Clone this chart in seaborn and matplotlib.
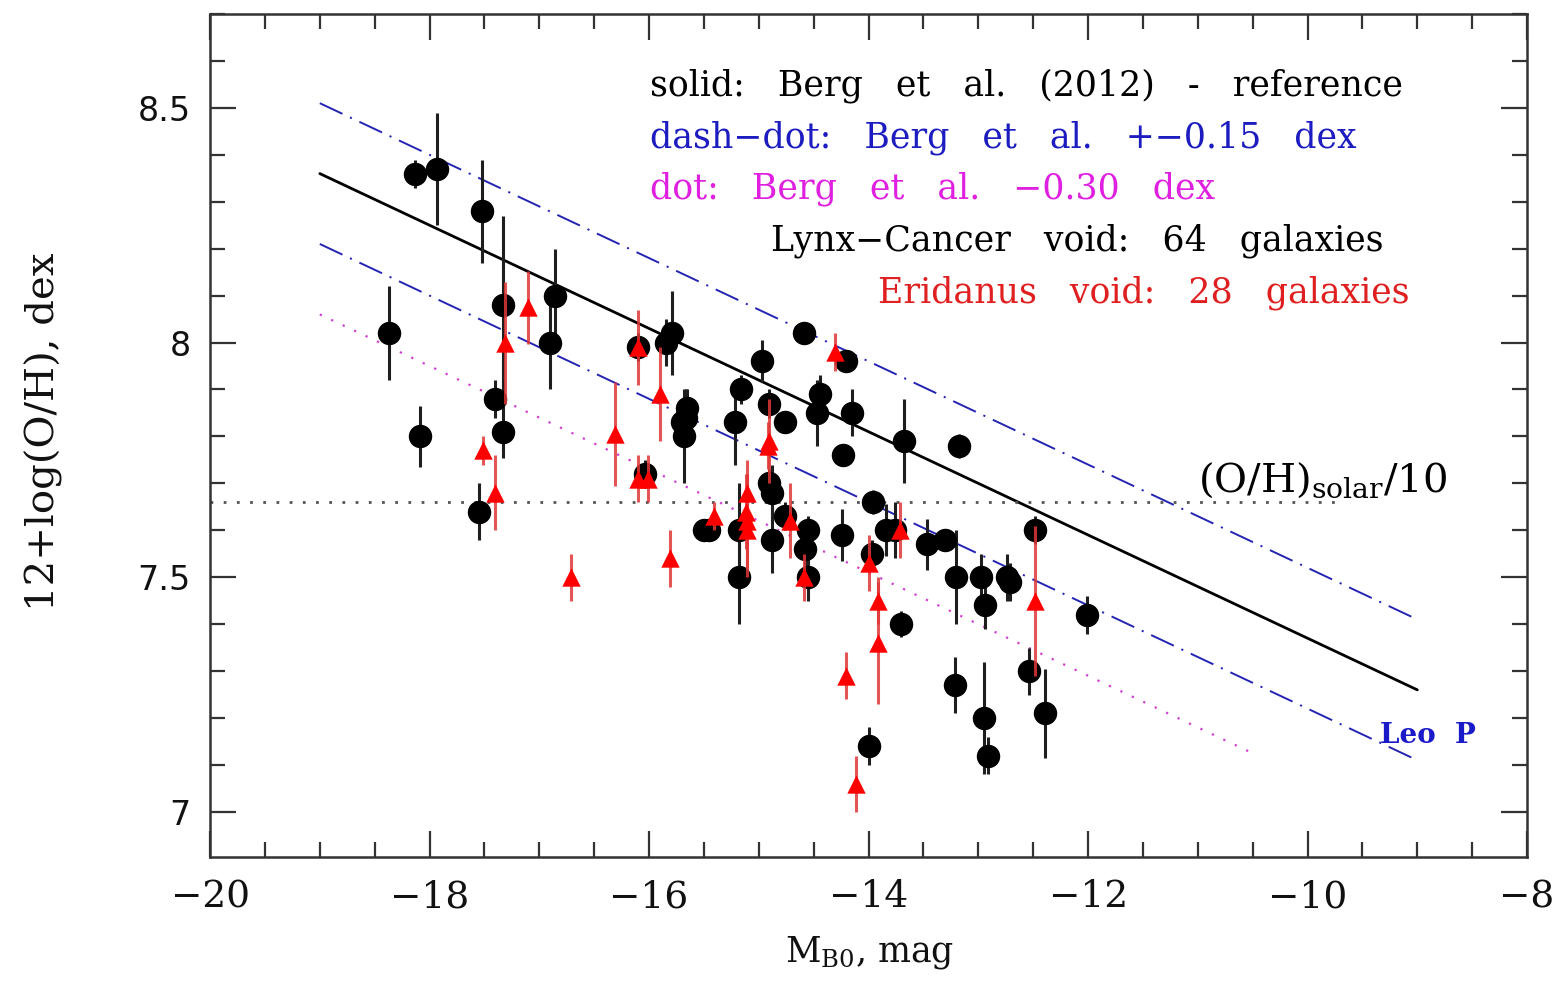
import matplotlib
matplotlib.use("Agg")
import matplotlib.pyplot as plt
from matplotlib.ticker import MultipleLocator, FuncFormatter
import pandas as pd
import seaborn as sns

# Lynx-Cancer void galaxies: absolute B magnitude, oxygen abundance, 1-sigma error
lc_mag = [-18.13, -17.93, -17.52, -17.33, -16.86, -16.90, -18.37, -17.40, -17.33, -18.09,
          -17.55, -16.10, -15.79, -15.85, -15.65, -15.70, -15.68, -16.04, -15.50, -15.18,
          -15.18, -14.97, -15.16, -15.22, -14.91, -14.76, -14.91, -14.88, -14.88, -14.76,
          -14.55, -14.58, -14.55, -14.59, -14.21, -14.44, -14.47, -14.15, -14.23, -13.68,
          -13.18, -13.96, -14.24, -13.84, -13.76, -13.97, -13.70, -13.47, -13.30, -13.20,
          -12.98, -12.94, -12.74, -12.71, -12.48, -12.01, -14.00, -13.21, -12.95, -12.91,
          -12.54, -12.39, -15.45, -15.66]
lc_oh = [8.36, 8.37, 8.28, 8.08, 8.10, 8.00, 8.02, 7.88, 7.81, 7.80,
         7.64, 7.99, 8.02, 8.00, 7.86, 7.83, 7.80, 7.72, 7.60, 7.60,
         7.50, 7.96, 7.90, 7.83, 7.87, 7.83, 7.70, 7.68, 7.58, 7.63,
         7.60, 7.56, 7.50, 8.02, 7.96, 7.89, 7.85, 7.85, 7.76, 7.79,
         7.78, 7.66, 7.59, 7.60, 7.60, 7.55, 7.40, 7.57, 7.58, 7.50,
         7.50, 7.44, 7.50, 7.49, 7.60, 7.42, 7.14, 7.27, 7.20, 7.12,
         7.30, 7.21, 7.60, 7.84]
lc_err = [0.03, 0.12, 0.11, 0.19, 0.10, 0.10, 0.10, 0.04, 0.055, 0.065,
          0.06, 0.03, 0.09, 0.05, 0.04, 0.05, 0.10, 0.03, 0.02, 0.10,
          0.10, 0.045, 0.03, 0.09, 0.03, 0.02, 0.03, 0.06, 0.07, 0.03,
          0.03, 0.04, 0.05, 0.02, 0.02, 0.04, 0.07, 0.05, 0.02, 0.09,
          0.025, 0.025, 0.055, 0.055, 0.06, 0.03, 0.027, 0.055, 0.02, 0.10,
          0.05, 0.05, 0.05, 0.04, 0.03, 0.04, 0.04, 0.06, 0.12, 0.04,
          0.05, 0.095, 0.02, 0.06]

# Eridanus void galaxies
er_mag = [-17.51, -17.40, -16.71, -17.31, -17.10, -16.10, -15.90, -16.31, -16.10, -16.01,
          -15.41, -15.81, -15.11, -15.11, -15.11, -14.91, -14.72, -14.59, -14.31, -13.71,
          -14.00, -13.91, -13.91, -14.21, -14.11, -12.48, -14.92, -15.12]
er_oh = [7.77, 7.68, 7.50, 8.00, 8.075, 7.99, 7.89, 7.805, 7.71, 7.71,
         7.63, 7.54, 7.68, 7.62, 7.60, 7.79, 7.62, 7.50, 7.98, 7.60,
         7.53, 7.45, 7.36, 7.29, 7.06, 7.45, 7.78, 7.64]
er_err = [0.03, 0.08, 0.05, 0.13, 0.078, 0.08, 0.10, 0.11, 0.05, 0.05,
          0.03, 0.06, 0.07, 0.10, 0.10, 0.09, 0.08, 0.05, 0.04, 0.06,
          0.06, 0.05, 0.13, 0.05, 0.06, 0.16, 0.05, 0.08]

# Berg et al. (2012) luminosity-metallicity relation and its offsets
berg_mag = [-19.0, -9.0]
berg_oh = [8.36, 7.26]
berg_band = 0.15
dot_mag = [-19.0, -10.5]
dot_oh = [8.06, 7.125]
solar_tenth = 7.66
solar_mag = [-20.0, -9.7]

lc = pd.DataFrame({"mag": lc_mag, "oh": lc_oh, "err": lc_err})
er = pd.DataFrame({"mag": er_mag, "oh": er_oh, "err": er_err})

sns.set_theme(style="ticks")
plt.rcParams["font.family"] = ["DejaVu Serif"]
plt.rcParams["mathtext.fontset"] = "dejavuserif"
plt.rcParams["lines.scale_dashes"] = False

fig = plt.figure(figsize=(15.64, 9.93), dpi=100)
ax = fig.add_axes([0.1343, 0.137, 0.8421, 0.8489])

# reference relations
DASHDOT = [18, 6, 1.5, 6]
sns.lineplot(x=berg_mag, y=berg_oh, ax=ax, color="black", linewidth=2.0, zorder=2)
sns.lineplot(x=berg_mag, y=[v + berg_band for v in berg_oh], ax=ax, color="#2424b4",
             linewidth=1.4, zorder=2).lines[-1].set_dashes(DASHDOT)
sns.lineplot(x=berg_mag, y=[v - berg_band for v in berg_oh], ax=ax, color="#2424b4",
             linewidth=1.4, zorder=2).lines[-1].set_dashes(DASHDOT)
sns.lineplot(x=dot_mag, y=dot_oh, ax=ax, color="#d040d0", linewidth=1.6,
             zorder=2).lines[-1].set_dashes([1.6, 7.5])
sns.lineplot(x=solar_mag, y=[solar_tenth, solar_tenth], ax=ax, color="#555555",
             linewidth=2.0, zorder=2).lines[-1].set_dashes([2.0, 7.5])

# Lynx-Cancer sample
ax.errorbar(lc["mag"], lc["oh"], yerr=lc["err"], fmt="none", ecolor="#1e1e1e",
            elinewidth=2.2, capsize=0, zorder=3)
sns.scatterplot(data=lc, x="mag", y="oh", ax=ax, color="black", s=285, marker="o",
                linewidth=0, zorder=4, legend=False)

# Eridanus sample
ax.errorbar(er["mag"], er["oh"], yerr=er["err"], fmt="none", ecolor="#e03838",
            elinewidth=2.2, capsize=0, alpha=0.85, zorder=5)
sns.scatterplot(data=er, x="mag", y="oh", ax=ax, color="#ff0000", s=175, marker="^",
                linewidth=0, zorder=6, legend=False)

ax.set_xlim(-20, -8)
ax.set_ylim(6.904, 8.70)

ax.xaxis.set_major_locator(MultipleLocator(2))
ax.xaxis.set_minor_locator(MultipleLocator(0.5))
ax.yaxis.set_major_locator(MultipleLocator(0.5))
ax.yaxis.set_minor_locator(MultipleLocator(0.1))
ax.yaxis.set_major_formatter(FuncFormatter(lambda v, p: f"{v:g}"))
ax.tick_params(which="both", direction="in", top=True, right=True, width=1.6, color="#333333")
ax.tick_params(which="major", length=19)
ax.tick_params(which="minor", length=11)
ax.tick_params(axis="x", labelsize=27, pad=16, labelcolor="#111111")
ax.tick_params(axis="y", labelsize=24, pad=14, labelcolor="#111111")
for lab in ax.get_yticklabels():
    lab.set_fontfamily("DejaVu Sans")
for sp in ax.spines.values():
    sp.set_linewidth(1.8)
    sp.set_color("#333333")

ax.set_xlabel(r"M$_{\mathrm{B0}}$, mag", fontsize=25, color="#111111")
ax.xaxis.set_label_coords(0.501, -0.091)
ax.set_ylabel("12+log(O/H), dex", fontsize=29, color="#111111")
ax.yaxis.set_label_coords(-0.112, 0.504)

# annotations
fs = 25
ax.text(-15.99, 8.548, "solid:   Berg   et   al.   (2012)   -   reference", color="black",
        fontsize=fs, va="center", ha="left")
ax.text(-15.99, 8.437, "dash\u2212dot:   Berg   et   al.   +\u22120.15   dex", color="#1c1cc0",
        fontsize=fs, va="center", ha="left")
ax.text(-15.99, 8.328, "dot:   Berg   et   al.   \u22120.30   dex", color="#e020e0",
        fontsize=fs, va="center", ha="left")
ax.text(-12.10, 8.217, "Lynx\u2212Cancer   void:   64   galaxies", color="black",
        fontsize=fs, va="center", ha="center")
ax.text(-11.49, 8.107, "Eridanus   void:   28   galaxies", color="#e02020",
        fontsize=fs, va="center", ha="center")
ax.text(-11.0, 7.706, r"(O/H)$_{\mathrm{solar}}$/10", color="black",
        fontsize=29, va="center", ha="left")
ax.text(-9.34, 7.162, "Leo  P", color="#1a1ac8", fontsize=20, fontweight="bold",
        va="center", ha="left")

fig.savefig("out.png", dpi=100, facecolor="white")
